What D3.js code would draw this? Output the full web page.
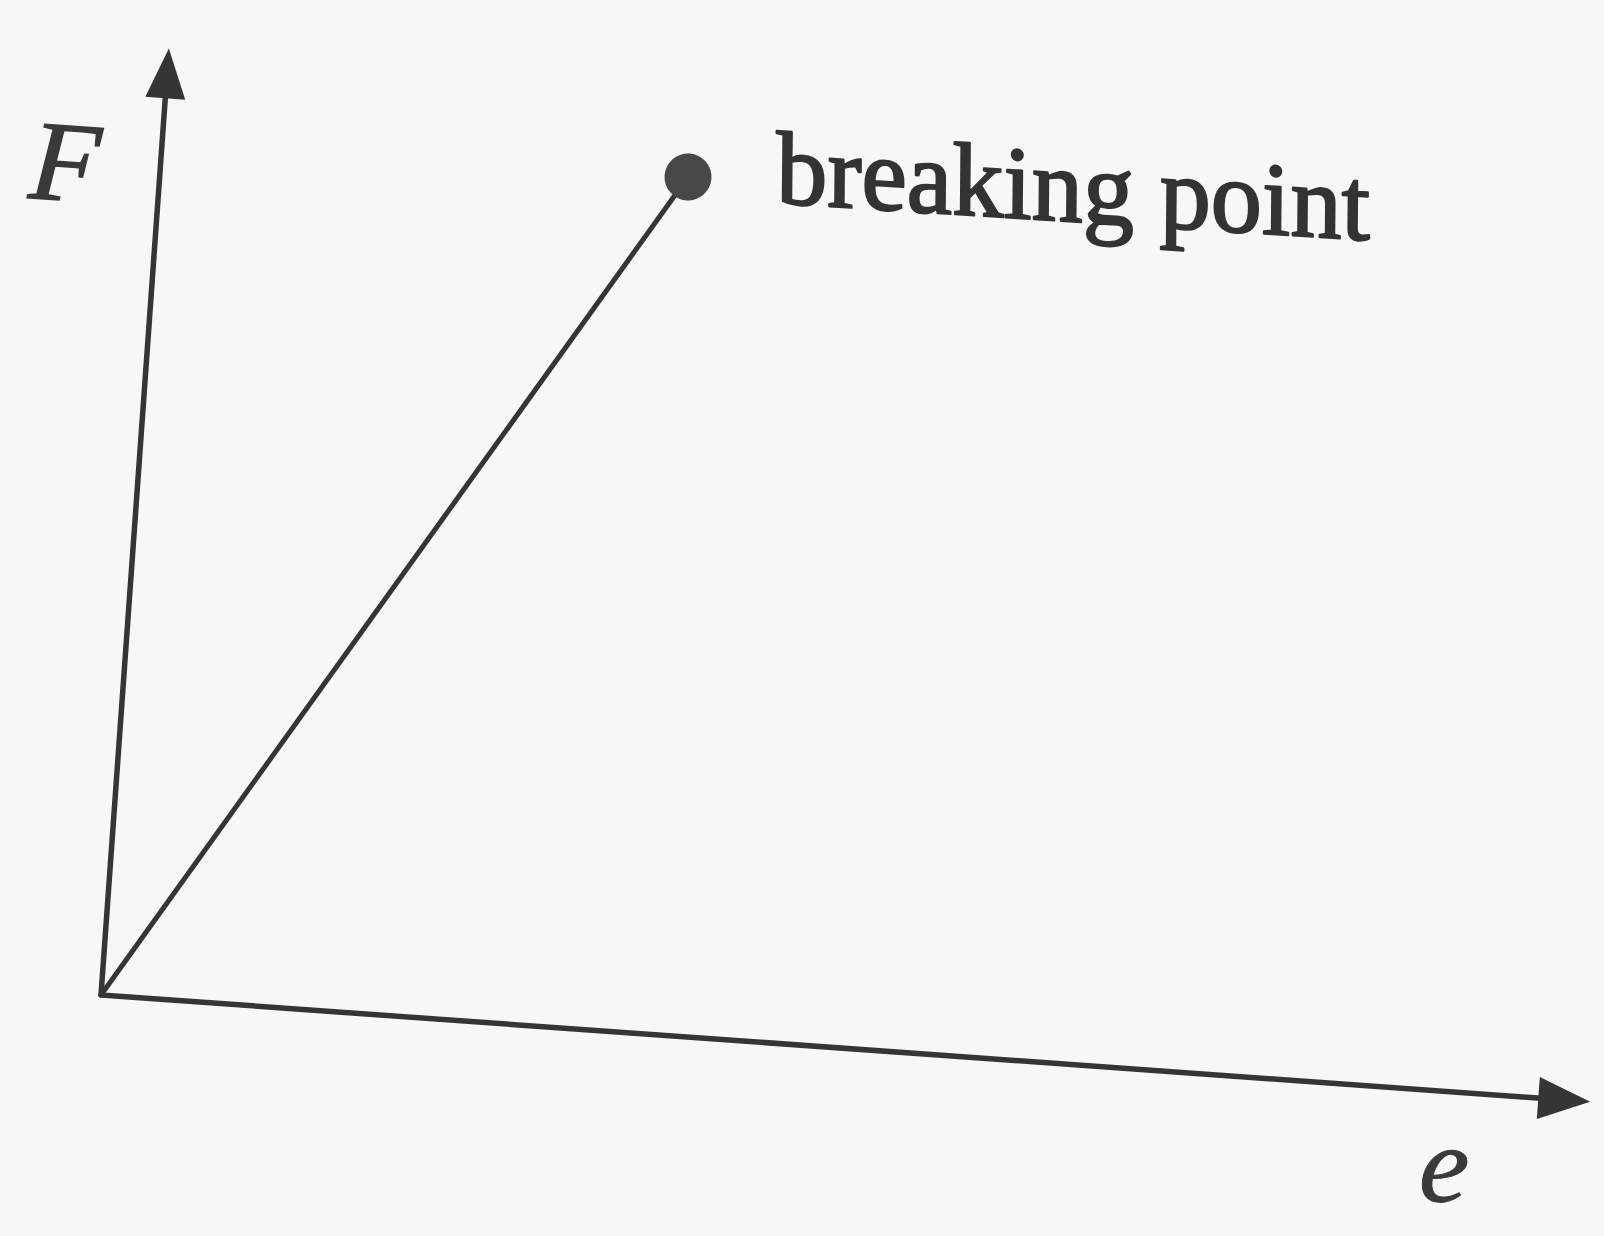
<!DOCTYPE html>
<html>
<head>
<meta charset="utf-8">
<script src="https://cdn.jsdelivr.net/npm/d3@7/dist/d3.min.js"></script>
<style>
  html, body { margin: 0; padding: 0; background: #f6f7f7; }
  svg { display: block; }
</style>
</head>
<body>
<svg id="chart" width="1604" height="1236"></svg>
<script>
// Force–extension sketch: linear response up to the breaking point
const extension = [0, 3.53];         // e
const force = [0, 9.04];             // F
const axisMax = { e: 10, F: 10 };
const pointLabel = "breaking point";
const xLabel = "e";
const yLabel = "F";

const W = 1604, H = 1236;
const ink = "#353535";
const svg = d3.select("#chart");

svg.append("rect").attr("width", W).attr("height", H).attr("fill", "#f6f7f7");

// the drawing sits slightly tilted on the page
const origin = [101, 995];
const tilt = 4.1;
const rad = tilt * Math.PI / 180;
const g = svg.append("g")
  .attr("transform", `translate(${origin[0]},${origin[1]}) rotate(${tilt})`);

// page position of a point given in the tilted frame
const toPage = (lx, ly) => [
  origin[0] + lx * Math.cos(rad) - ly * Math.sin(rad),
  origin[1] + lx * Math.sin(rad) + ly * Math.cos(rad)
];

const x = d3.scaleLinear().domain([0, axisMax.e]).range([0, 1493]);
const y = d3.scaleLinear().domain([0, axisMax.F]).range([0, -949]);

const head = 52, half = 21;

// x axis with arrowhead
g.append("line")
  .attr("x1", x(0)).attr("y1", y(0))
  .attr("x2", x(axisMax.e) - head + 2).attr("y2", y(0))
  .attr("stroke", ink).attr("stroke-width", 5.5).attr("stroke-linecap", "round");
g.append("path")
  .attr("d", d3.line()([
    [x(axisMax.e), y(0)],
    [x(axisMax.e) - head, y(0) - half],
    [x(axisMax.e) - head, y(0) + half]
  ]) + "Z")
  .attr("fill", ink);

// y axis with arrowhead
g.append("line")
  .attr("x1", x(0)).attr("y1", y(0))
  .attr("x2", x(0)).attr("y2", y(axisMax.F) + head - 2)
  .attr("stroke", ink).attr("stroke-width", 5.5).attr("stroke-linecap", "round");
g.append("path")
  .attr("d", d3.line()([
    [x(0), y(axisMax.F)],
    [x(0) - 20, y(axisMax.F) + head - 2],
    [x(0) + 20, y(axisMax.F) + head - 2]
  ]) + "Z")
  .attr("fill", ink);

// the F–e line
const pts = extension.map((e, i) => ({ e, F: force[i] }));
g.append("path")
  .datum(pts)
  .attr("d", d3.line().x(d => x(d.e)).y(d => y(d.F)))
  .attr("fill", "none")
  .attr("stroke", ink)
  .attr("stroke-width", 5);

// breaking point marker
const brk = pts[pts.length - 1];
g.append("circle")
  .attr("cx", x(brk.e)).attr("cy", y(brk.F))
  .attr("r", 23.5)
  .attr("fill", "#484848");

// label: letters stay upright while the baseline follows the page slope
const [bx, by] = toPage(x(brk.e), y(brk.F));
svg.append("g")
  .attr("transform", `translate(${bx + 88},${by + 26}) skewX(-0.5) skewY(3.6)`)
  .append("text")
  .attr("x", 0).attr("y", 0)
  .attr("font-family", "'Liberation Serif', serif")
  .attr("font-size", 104)
  .attr("textLength", 594)
  .attr("lengthAdjust", "spacingAndGlyphs")
  .attr("fill", "#333")
  .attr("stroke", "#333")
  .attr("stroke-width", 2.2)
  .attr("stroke-linejoin", "round")
  .text(pointLabel);

// axis labels
g.append("text")
  .attr("x", -130).attr("y", -790)
  .attr("font-family", "'Liberation Serif', serif")
  .attr("font-style", "italic")
  .attr("font-size", 114)
  .attr("fill", "#3a3a3a")
  .attr("stroke", "#3a3a3a")
  .attr("stroke-width", 1.5)
  .text(yLabel);

g.append("text")
  .attr("x", 1328).attr("y", 110)
  .attr("font-family", "'Liberation Serif', serif")
  .attr("font-style", "italic")
  .attr("font-size", 110)
  .attr("fill", "#3a3a3a")
  .attr("stroke", "#3a3a3a")
  .attr("stroke-width", 1)
  .text(xLabel);
</script>
</body>
</html>
